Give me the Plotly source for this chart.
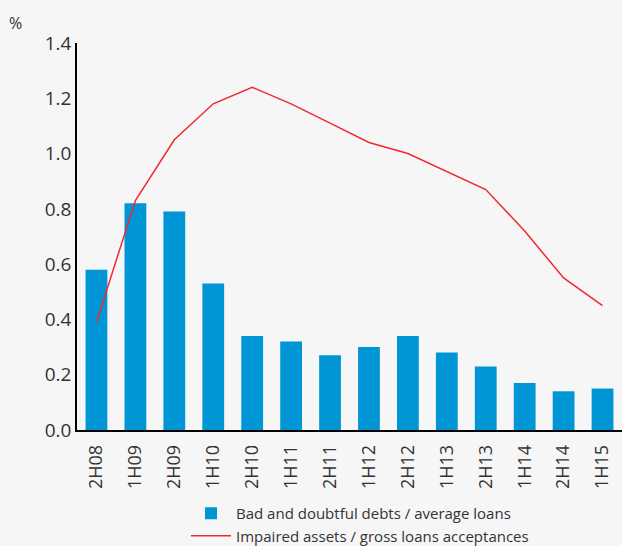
import plotly.graph_objects as go

categories = ["2H08", "1H09", "2H09", "1H10", "2H10", "1H11", "2H11",
              "1H12", "2H12", "1H13", "2H13", "1H14", "2H14", "1H15"]
bad_debts = [0.58, 0.82, 0.79, 0.53, 0.34, 0.32, 0.27,
             0.30, 0.34, 0.28, 0.23, 0.17, 0.14, 0.15]
impaired = [0.39, 0.83, 1.05, 1.18, 1.24, 1.18, 1.11,
            1.04, 1.00, 0.935, 0.87, 0.72, 0.55, 0.45]
y_ticks = [0.0, 0.2, 0.4, 0.6, 0.8, 1.0, 1.2, 1.4]

font_family = "Open Sans"
bg = "#f6f6f6"
W, H = 622, 546

fig = go.Figure()
fig.add_trace(go.Bar(
    x=categories, y=bad_debts,
    name="Bad and doubtful debts / average loans",
    legendgroup="a",
    marker=dict(color="#0096d6", line=dict(width=0)),
    width=0.56,
))
fig.add_trace(go.Scatter(
    x=categories, y=impaired,
    name="Impaired assets / gross loans acceptances",
    legendgroup="b",
    mode="lines",
    line=dict(color="#ee2a35", width=1.5),
))

fig.update_layout(
    width=W, height=H,
    margin=dict(l=77, r=0, t=43, b=116, autoexpand=False),
    paper_bgcolor=bg, plot_bgcolor=bg,
    font=dict(family=font_family, color="#333333"),
    showlegend=True,
    legend=dict(
        xref="container", yref="container",
        x=186 / W, y=1 - 497 / H, xanchor="left", yanchor="top",
        orientation="v",
        traceorder="grouped",
        tracegroupgap=0,
        font=dict(size=15, color="#333333", family=font_family),
        bgcolor="rgba(0,0,0,0)",
        itemwidth=40,
    ),
    xaxis=dict(
        type="category",
        range=[-0.5, 13.5],
        tickangle=-90,
        tickfont=dict(size=18, color="#333333"),
        ticklabelstandoff=6,
        showline=True, linecolor="#000000", linewidth=1.5,
        showgrid=False, ticks="", zeroline=False, automargin=False,
    ),
    yaxis=dict(
        range=[0, 1.4],
        tickvals=y_ticks,
        tickformat=".1f",
        tickfont=dict(size=19, color="#333333"),
        showline=True, linecolor="#000000", linewidth=1.5,
        showgrid=False, ticks="", zeroline=False, automargin=False,
    ),
    annotations=[dict(
        text="%", xref="paper", yref="paper",
        x=(15 - 77) / 545, y=1 + (43 - 23) / 387,
        showarrow=False, font=dict(size=16, color="#333333"),
        xanchor="center", yanchor="middle",
    )],
)

fig.write_html(
    "out.html",
    config={"displayModeBar": False},
    post_script="document.body.style.margin='0';document.body.style.padding='0';",
)
